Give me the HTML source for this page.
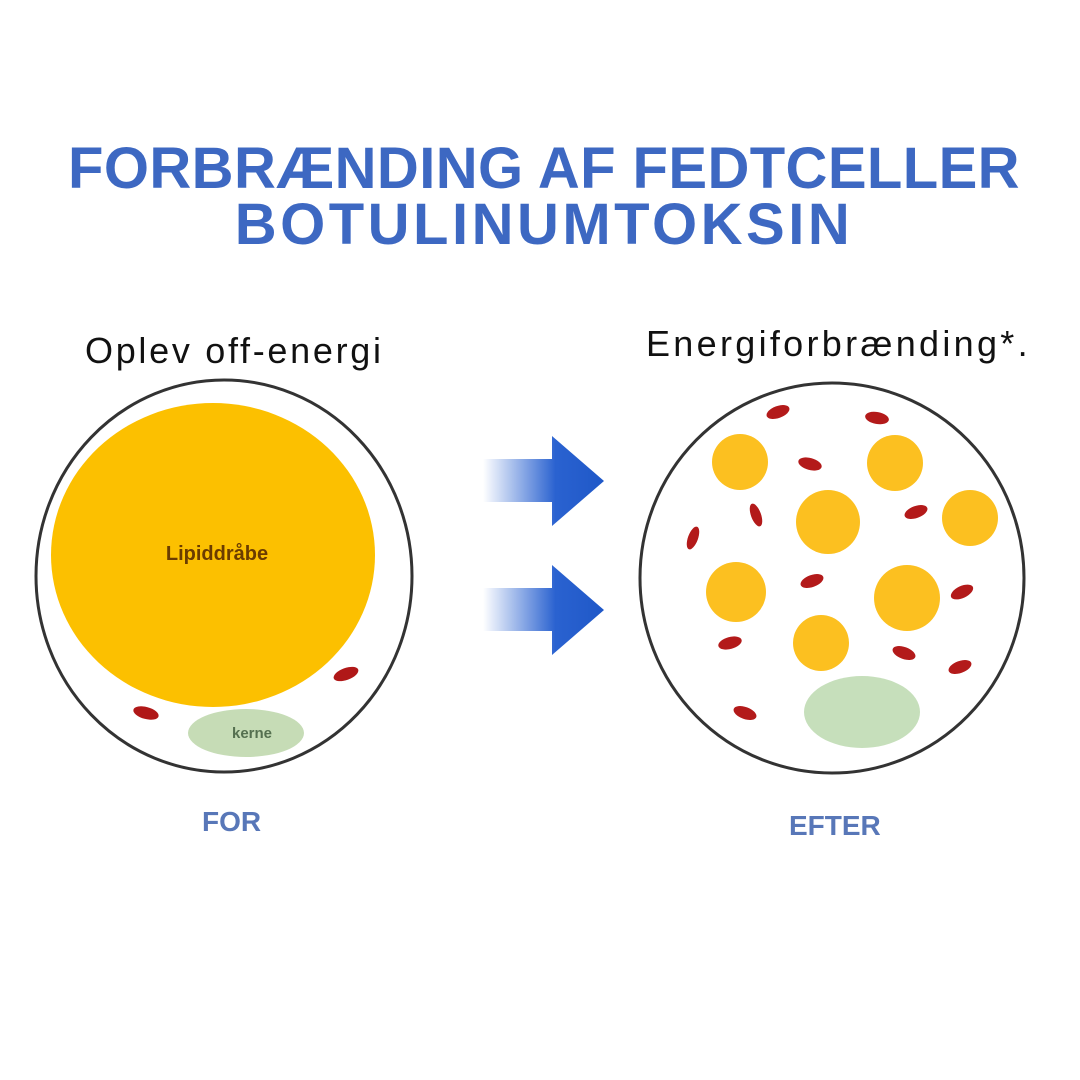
<!DOCTYPE html>
<html><head><meta charset="utf-8"><style>
body{margin:0;width:1080px;height:1080px;background:#fff;overflow:hidden;position:relative;font-family:"Liberation Sans",sans-serif}
.t{position:absolute;left:0;width:1080px;text-align:center;color:#3d68c2;font-weight:bold;font-size:58px;letter-spacing:0px;line-height:60px;white-space:nowrap}
.l{position:absolute;color:#111;font-size:36px;letter-spacing:2.7px;white-space:nowrap}
.f{position:absolute;color:#5877b8;font-weight:bold;font-size:28px}
</style></head><body>
<div class="t" style="top:139px;left:4px;letter-spacing:0.4px">FORBRÆNDING AF FEDTCELLER</div>
<div class="t" style="top:195px;left:4px;letter-spacing:3.5px">BOTULINUMTOKSIN</div>
<div class="l" style="left:85px;top:330px">Oplev off-energi</div>
<div class="l" style="left:646px;top:323px;letter-spacing:3.3px">Energiforbrænding*.</div>
<svg width="1080" height="1080" style="position:absolute;left:0;top:0">
<defs>
<linearGradient id="g" x1="0" x2="1"><stop offset="0" stop-color="#2a62d0" stop-opacity="0"/><stop offset="0.6" stop-color="#2a62d0"/><stop offset="1" stop-color="#1f58c8"/></linearGradient>
</defs>
<ellipse cx="224" cy="576" rx="188" ry="196" fill="#fff" stroke="#333" stroke-width="3"/>
<ellipse cx="213" cy="555" rx="162" ry="152" fill="#fcc000"/>
<text x="217" y="560" text-anchor="middle" font-family="Liberation Sans" font-weight="bold" font-size="20" fill="#6b3c00">Lipiddråbe</text>
<ellipse cx="246" cy="733" rx="58" ry="24" fill="#c6dcb6"/>
<text x="252" y="738" text-anchor="middle" font-family="Liberation Sans" font-weight="bold" font-size="15" fill="#557050">kerne</text>
<ellipse cx="346" cy="674" rx="13" ry="6" fill="#b01818" transform="rotate(-20 346 674)"/>
<ellipse cx="146" cy="713" rx="13" ry="6" fill="#b01818" transform="rotate(15 146 713)"/>
<path d="M483 459H552V436L604 481L552 526V502H483Z" fill="url(#g)"/>
<path d="M483 588H552V565L604 610L552 655V631H483Z" fill="url(#g)"/>
<ellipse cx="832" cy="578" rx="192" ry="195" fill="#fff" stroke="#333" stroke-width="3"/>
<g fill="#fcc020">
<circle cx="740" cy="462" r="28"/><circle cx="895" cy="463" r="28"/><circle cx="828" cy="522" r="32"/><circle cx="970" cy="518" r="28"/><circle cx="736" cy="592" r="30"/><circle cx="907" cy="598" r="33"/><circle cx="821" cy="643" r="28"/>
</g>
<ellipse cx="862" cy="712" rx="58" ry="36" fill="#c6dfbb"/>
<g fill="#b31a1a">
<ellipse cx="778" cy="412" rx="12" ry="6" transform="rotate(-20 778 412)"/>
<ellipse cx="877" cy="418" rx="12" ry="6" transform="rotate(10 877 418)"/>
<ellipse cx="810" cy="464" rx="12" ry="6" transform="rotate(15 810 464)"/>
<ellipse cx="756" cy="515" rx="12" ry="5" transform="rotate(70 756 515)"/>
<ellipse cx="916" cy="512" rx="12" ry="6" transform="rotate(-20 916 512)"/>
<ellipse cx="693" cy="538" rx="12" ry="5" transform="rotate(-70 693 538)"/>
<ellipse cx="812" cy="581" rx="12" ry="6" transform="rotate(-20 812 581)"/>
<ellipse cx="962" cy="592" rx="12" ry="6" transform="rotate(-25 962 592)"/>
<ellipse cx="730" cy="643" rx="12" ry="6" transform="rotate(-15 730 643)"/>
<ellipse cx="904" cy="653" rx="12" ry="6" transform="rotate(20 904 653)"/>
<ellipse cx="960" cy="667" rx="12" ry="6" transform="rotate(-20 960 667)"/>
<ellipse cx="745" cy="713" rx="12" ry="6" transform="rotate(20 745 713)"/>
</g>
</svg>
<div class="f" style="left:202px;top:806px">FOR</div>
<div class="f" style="left:789px;top:810px">EFTER</div>
</body></html>
